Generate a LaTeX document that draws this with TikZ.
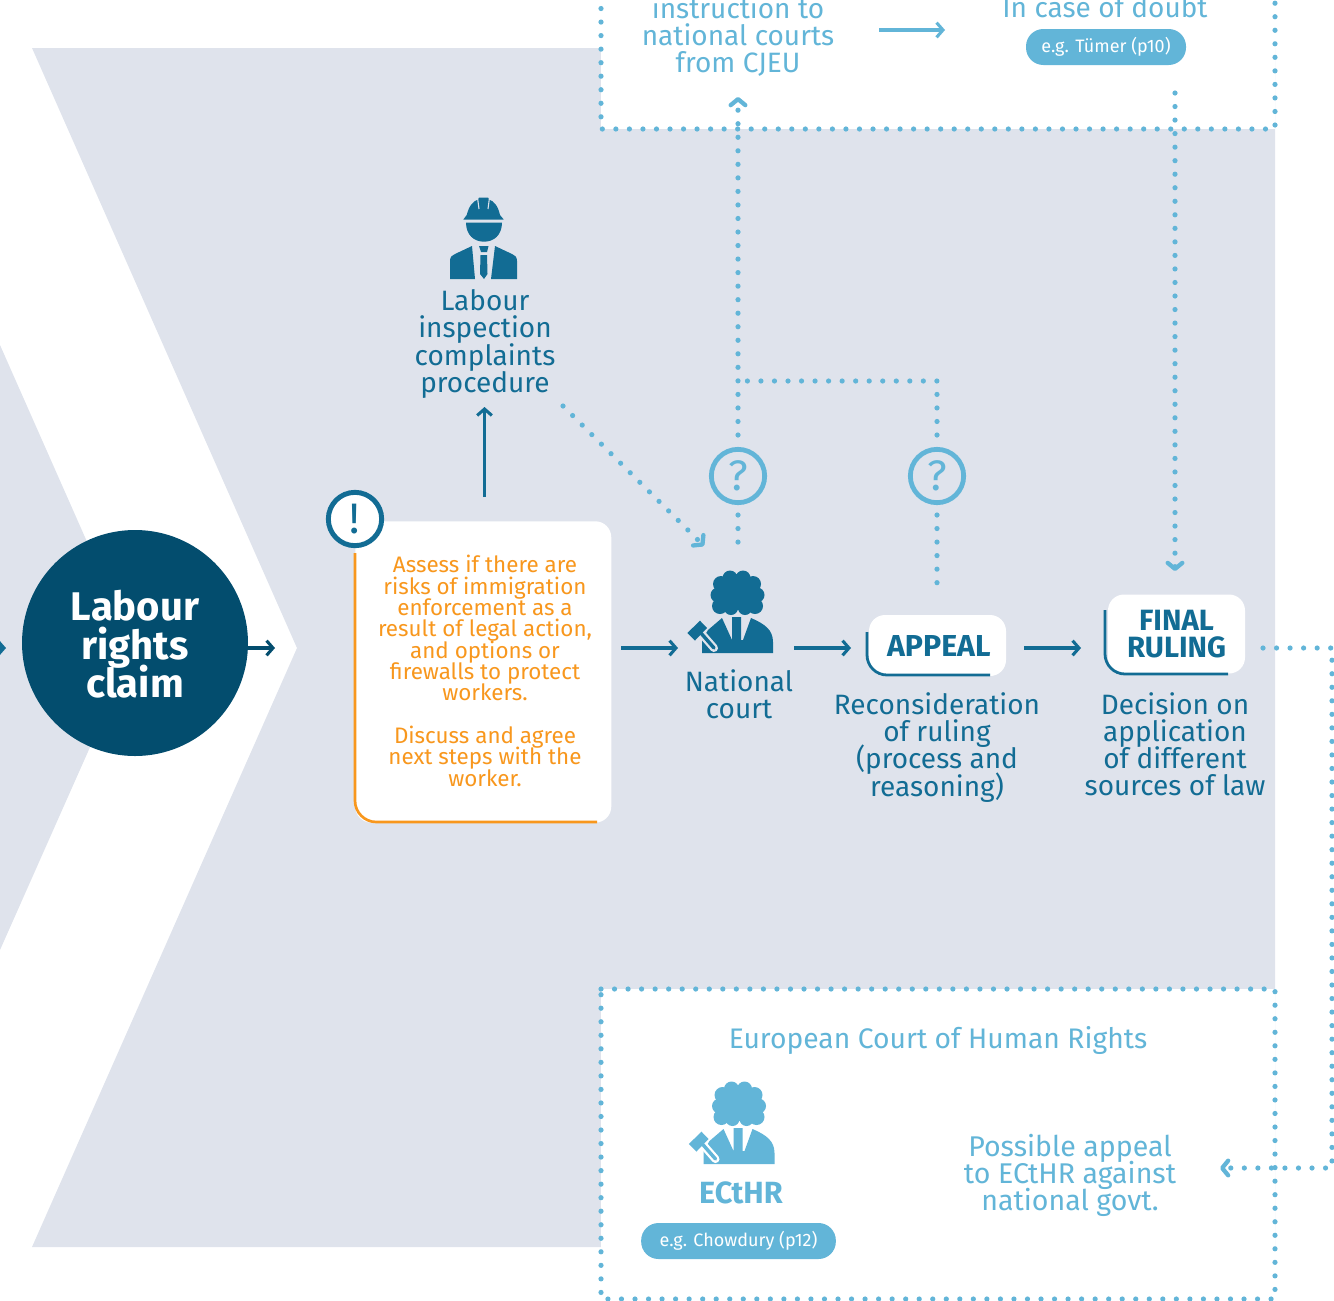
\documentclass[tikz,border=0pt]{standalone}
\usepackage{fontspec}
\setmainfont{Fira Sans}
\usetikzlibrary{arrows.meta}
\definecolor{bgrey}{HTML}{DFE3EC}
\definecolor{deep}{HTML}{034D6E}
\definecolor{teal}{HTML}{126C94}
\definecolor{sky}{HTML}{62B5D8}
\definecolor{amber}{HTML}{F8971D}
\newcommand{\fs}[2]{\fontsize{#1pt}{#2pt}\selectfont\lineskiplimit=-100pt\relax}
\tikzset{
  solidarrow/.style={line width=2.3pt,-{Straight Barb[length=4.8pt,width=11pt,line width=2.3pt]},draw=teal},
  lightarrow/.style={solidarrow,draw=sky},
  dotline/.style={draw=sky,line width=3.9pt,line cap=round,dash pattern=on 0pt off 10.15pt},
  dotarrow/.style={dotline,-{Straight Barb[length=4.5pt,width=11pt,line width=3.2pt,round]}},
  boxedge/.style={draw=teal,line width=2.1pt,rounded corners=15pt},
  tealtext/.style={inner sep=0pt,align=center,text=teal,font=\fs{21}{20.3}},
  skytext/.style={inner sep=0pt,align=center,text=sky,font=\fs{21}{20.3}},
  pill/.style={fill=sky,rounded corners=13pt,text=white,inner sep=0pt,font=\fs{13.5}{15},minimum height=27pt},
  quest/.style={circle,draw=sky,line width=3.6pt,minimum size=40pt,inner sep=0pt,text=sky,font=\fs{32}{32}},
}
\newcommand{\judgeicon}[4]{%
  \begin{scope}[shift={(#1,#2)}]
    \fill[#3] (737,592) circle (18);
    \foreach \cx/\cy/\cr in {730/578/7.5,743/578/7.5,721/584/8,753/584/8,718/595/7.5,757/595/7.5,720/606/8,755/606/8,731/608/7,745/608/7}
      \fill[#3] (\cx,\cy) circle (\cr);
    \fill[#3] (702,653) -- (702,640) -- (708,630) -- (722,618) -- (732,640) -- (732,617) -- (741,617) -- (741,640) -- (743,640) -- (751,618) .. controls (765,624) and (773,630) .. (773,642) -- (773,653) -- cycle;
    \draw[#4,line width=6pt,line cap=round] (700,632) -- (714,648);
    \draw[#3,line width=2.6pt,line cap=round] (700,632) -- (714,648);
    \fill[#3] (687.3,633) -- (700,620.7) -- (707,628) -- (695,640.5) -- cycle;
  \end{scope}}
\begin{document}
\begin{tikzpicture}[x=0.75pt,y=-0.75pt]
\useasboundingbox (0,0) rectangle (1334,1300);
\clip (0,0) rectangle (1334,1300);
% background chevrons
\fill[bgrey] (32,48) -- (1275,48) -- (1275,1247) -- (32,1247) -- (297,648) -- cycle;
\fill[bgrey] (0,345) -- (134,648) -- (0,950) -- cycle;
% dotted panels
\fill[white] (601,-20) rectangle (1275,129);
\fill[white] (601,989) rectangle (1275,1299);
\draw[dotline] (601,-5) -- (601,129) -- (1275,129) -- (1275,-5);
\draw[dotline] (601,989) -- (1275,989) -- (1275,1299) -- (601,1299) -- cycle;

% claim
\node[circle,fill=deep,minimum size=169.5pt,inner sep=0pt] (claim) at (135,643) {};
\node[inner sep=0pt,align=center,text=white,font=\fs{30}{28.8}\bfseries] (claimtext) at (135,644.5) {Labour\\rights\\claim};
\coordinate (tip) at (275,648);
\coordinate (inL) at (6,648);
\coordinate (offL) at (-30,648);
\draw[solidarrow] (offL) -- (inL);
\draw[solidarrow,draw=deep] (claim.east |- tip) -- (tip);

% worker icon
\fill[teal] (463.3,219.5) -- (466.7,215) .. controls (469,206) and (473,201) .. (478,199.5) -- (479,197.5) -- (488,197.5) -- (489,199.5) .. controls (494,201) and (498,206) .. (500,215) -- (503.7,219.5) -- cycle;
\draw[bgrey,line width=0.8pt] (477.7,199) -- (479,209);
\draw[bgrey,line width=0.8pt] (489.3,199) -- (488,209);
\fill[teal] (466,222.5) .. controls (466,235) and (474,241.7) .. (484,241.7) .. controls (494,241.7) and (502,235) .. (502,222.5) -- cycle;
\fill[teal] (450,279) -- (450,261) .. controls (450,257) and (452,255) .. (455,254) -- (472,246) -- (475,279) -- cycle;
\fill[teal] (517,279) -- (517,261) .. controls (517,257) and (515,255) .. (512,254) -- (495,246) -- (491,279) -- cycle;
\fill[teal] (479,246) -- (488.5,246) -- (487,252) -- (481,252) -- cycle;
\fill[teal] (480.5,255) -- (487,255) -- (487.5,274) -- (484,279) -- (480,274) -- cycle;

\node[tealtext] (inspect) at (485,344) {Labour\\inspection\\complaints\\procedure};

% assess box
\node[fill=white,rounded corners=12pt,minimum width=192pt,minimum height=226pt,inner sep=0pt,anchor=north west] (assess) at (355,521) {};
\node[inner sep=0pt,align=center,text=amber,font=\fs{16.8}{16}] (assesstext) at (485,671) {Assess if there are\\risks of immigration\\enforcement as a\\result of legal action,\\and options or\\firewalls to protect\\workers.\\[16pt]Discuss and agree\\next steps with the\\worker.};
\coordinate (orA) at (355,553);
\coordinate (orB) at (355,822);
\coordinate (orC) at (597,822);
\draw[draw=amber,line width=2pt,rounded corners=16pt] (orA) -- (orB) -- (orC);
\node[circle,fill=white,draw=teal,line width=3.7pt,minimum size=40pt,inner sep=0pt,text=teal,font=\fs{32}{32}] (alert) at (355,519) {!};

% inspection arrows
\coordinate (inspUp) at (484.5,407);
\coordinate (inspDn) at (484.5,497);
\draw[solidarrow] (inspDn) -- (inspUp);

% court
\judgeicon{0}{0}{teal}{bgrey}
\coordinate (court) at (738,612);
\node[tealtext] (courttext) at (739,694) {National\\court};

% appeal
\node[fill=white,rounded corners=12pt,minimum width=102.75pt,minimum height=45.75pt,inner sep=0pt,font=\fs{22.7}{20}\bfseries,text=teal] (appeal) at (937.5,645.5) {\hspace{2pt}APPEAL};
\coordinate (apA) at (867,632);
\coordinate (apB) at (867,675);
\coordinate (apC) at (990,675);
\draw[boxedge] (apA) -- (apB) -- (apC);
\node[tealtext] (appealtext) at (937,747.5) {Reconsideration\\of ruling\\(process and\\reasoning)};

% final
\node[fill=white,rounded corners=12pt,minimum width=102.75pt,minimum height=59.25pt,inner sep=0pt,align=center,text=teal,font=\fs{22}{20}\bfseries] (final) at (1176.5,634) {FINAL\\RULING};
\coordinate (fiA) at (1105,610);
\coordinate (fiB) at (1105,674);
\coordinate (fiC) at (1228,674);
\draw[boxedge] (fiA) -- (fiB) -- (fiC);
\node[tealtext] (finaltext) at (1175,744.5) {Decision on\\application\\of different\\sources of law};

% row arrows
\coordinate (row) at (621,648);
\coordinate (courtIn) at (678,648);
\coordinate (courtOut) at (794,648);
\coordinate (appealIn) at (851,648);
\coordinate (appealOut) at (1024,648);
\coordinate (finalIn) at (1081,648);
\draw[solidarrow] (row) -- (courtIn);
\draw[solidarrow] (courtOut) -- (appealIn);
\draw[solidarrow] (appealOut) -- (finalIn);

% questions
\node[quest] (q1) at (738,476) {?};
\node[quest] (q2) at (937,476) {?};

% top panel
\node[skytext] (instr) at (738,36.5) {instruction to\\national courts\\from CJEU};
\node[skytext,anchor=center] (doubt) at (1105,7) {In case of doubt};
\node[pill,minimum width=120pt] (tumer) at (1106,47) {e.g. Tümer (p10)};
\coordinate (lightA) at (879,30);
\coordinate (lightB) at (945,30);
\draw[lightarrow] (lightA) -- (lightB);

% dotted connectors
\coordinate (q1Up) at (738,435);
\coordinate (q1Top) at (738,97);
\coordinate (q2Up) at (937,435);
\coordinate (q2Corner) at (937,381);
\coordinate (q1Join) at (738,381);
\coordinate (q1Dn) at (738,515);
\coordinate (courtTop) at (738,546);
\coordinate (q2Dn) at (937,515);
\coordinate (appealTop) at (937,585);
\coordinate (doubtDn) at (1175,93);
\coordinate (finalTop) at (1175,571);
\coordinate (diagA) at (563,406);
\coordinate (diagB) at (704,546);
\coordinate (finalOut) at (1263,648);
\coordinate (edgeTop) at (1332,648);
\coordinate (edgeBot) at (1332,1168);
\coordinate (ecthrIn) at (1220,1168);
\draw[dotarrow] (q1Up) -- (q1Top);
\draw[dotline] (q1Dn) -- (courtTop);
\draw[dotline] (q2Up) -- (q2Corner) -- (q1Join);
\draw[dotline] (q2Dn) -- (appealTop);
\draw[dotarrow] (doubtDn) -- (finalTop);
\draw[dotarrow] (diagA) -- (diagB);
\draw[dotarrow] (finalOut) -- (edgeTop) -- (edgeBot) -- (ecthrIn);

% ECtHR panel
\node[inner sep=0pt,text=sky,font=\fs{21.2}{20}] (echr) at (938,1040) {European Court of Human Rights};
\judgeicon{1.5}{511}{sky}{white}
\node[inner sep=0pt,text=sky,font=\fs{23}{20}\bfseries] (ecthr) at (741,1193) {ECtHR};
\node[pill,minimum width=146pt] (chow) at (738.5,1241) {e.g. Chowdury (p12)};
\node[inner sep=0pt,align=center,text=sky,font=\fs{21.4}{20.3}] (possible) at (1070,1175) {Possible appeal\\to ECtHR against\\national govt.};
\end{tikzpicture}
\end{document}
